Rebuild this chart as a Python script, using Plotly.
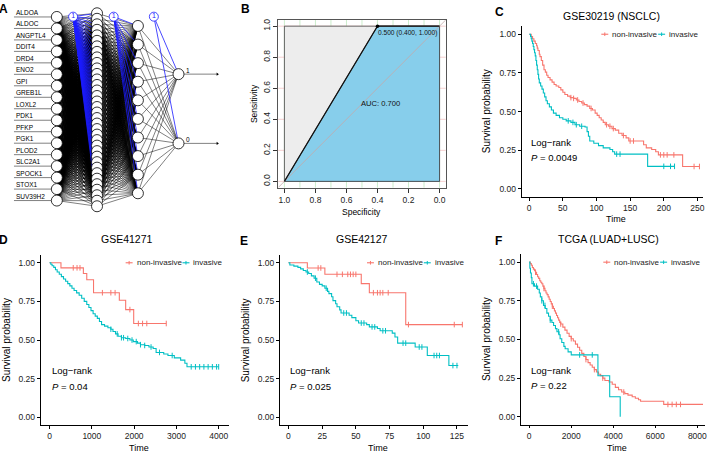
import numpy as np
import plotly.graph_objects as go

W, H = 709, 455
FONT = "Liberation Sans, Arial, Helvetica, sans-serif"
RED = "#F8766D"
TEAL = "#00BFC4"

# ---------------- data ----------------
# Panel A: neural network
genes = ["ALDOA", "ALDOC", "ANGPTL4", "DDIT4", "DRD4", "ENO2", "GPI", "GREB1L", "LOXL2",
         "PDK1", "PFKP", "PGK1", "PLOD2", "SLC2A1", "SPOCK1", "STOX1", "SUV39H2"]
hidden1_size = 36
hidden2_size = 10
output_labels = ["1", "0"]

# Panel B: ROC
roc_specificity = [1.0, 0.4, 0.0]
roc_sensitivity = [0.0, 1.0, 1.0]
auc_value = 0.700
best_threshold = 0.500
roc_ticks = [1.0, 0.8, 0.6, 0.4, 0.2, 0.0]

# Panel C: GSE30219 (NSCLC)
c_non_t = [0, 3, 5, 7, 9, 11, 12, 13, 15, 16, 18, 20, 22, 24, 26, 28, 31, 34, 37, 40, 44, 47, 50, 53,
           57, 61, 66, 70, 74, 78, 82, 86, 90, 94, 98, 101, 104, 107, 110, 113, 118, 123, 128, 133,
           138, 144, 148, 170, 174, 182, 188, 192, 228]
c_non_s = [1.0, 0.985, 0.97, 0.955, 0.94, 0.925, 0.91, 0.895, 0.87, 0.855, 0.83, 0.80, 0.77, 0.755,
           0.735, 0.72, 0.705, 0.69, 0.675, 0.665, 0.655, 0.64, 0.625, 0.61, 0.60, 0.59, 0.585, 0.575,
           0.565, 0.555, 0.545, 0.535, 0.52, 0.51, 0.49, 0.475, 0.46, 0.445, 0.43, 0.415, 0.405, 0.39,
           0.38, 0.36, 0.345, 0.33, 0.31, 0.285, 0.265, 0.255, 0.24, 0.22, 0.145]
c_non_end = 253
c_non_cens = [62, 66, 72, 80, 92, 115, 120, 125, 140, 150, 155, 195, 200, 205, 215, 245, 253]
c_inv_t = [0, 2, 3, 4, 5, 6, 7, 8, 9, 10, 11, 12, 13, 14, 15, 17, 19, 21, 23, 25, 27, 30, 33, 36, 40,
           45, 50, 55, 62, 68, 75, 83, 86, 88, 90, 96, 103, 110, 120, 124, 127, 176]
c_inv_s = [1.0, 0.985, 0.97, 0.955, 0.94, 0.92, 0.90, 0.88, 0.86, 0.83, 0.80, 0.77, 0.74, 0.71, 0.685,
           0.665, 0.645, 0.62, 0.595, 0.57, 0.55, 0.53, 0.51, 0.49, 0.475, 0.46, 0.45, 0.44, 0.43,
           0.415, 0.405, 0.40, 0.37, 0.34, 0.31, 0.295, 0.28, 0.265, 0.255, 0.24, 0.225, 0.146]
c_inv_end = 216
c_inv_cens = [58, 65, 70, 78, 130, 135, 200, 210, 216]

# Panel D: GSE41271
d_non_t = [0, 270, 800, 880, 1040, 1650, 1800, 1990]
d_non_s = [1.0, 0.967, 0.93, 0.89, 0.806, 0.757, 0.697, 0.607]
d_non_end = 2760
d_non_cens = [560, 650, 720, 1250, 1450, 1550, 1900, 2100, 2200, 2300, 2760]
d_inv_t = [0, 30, 60, 100, 140, 180, 230, 280, 330, 380, 430, 480, 530, 580, 640, 700, 760, 820, 880,
           930, 980, 1030, 1080, 1130, 1180, 1230, 1300, 1380, 1450, 1500, 1560, 1620, 1700, 1800,
           1900, 1980, 2080, 2150, 2250, 2350, 2450, 2520, 2700, 2800, 2950, 3100, 3200, 3250]
d_inv_s = [1.0, 0.99, 0.98, 0.97, 0.955, 0.94, 0.925, 0.91, 0.895, 0.88, 0.865, 0.85, 0.835, 0.82,
           0.805, 0.79, 0.77, 0.75, 0.73, 0.71, 0.69, 0.67, 0.655, 0.64, 0.62, 0.60, 0.59, 0.58, 0.57,
           0.555, 0.54, 0.525, 0.515, 0.51, 0.50, 0.49, 0.48, 0.47, 0.465, 0.455, 0.445, 0.42, 0.41,
           0.40, 0.385, 0.37, 0.35, 0.327]
d_inv_end = 4000
d_inv_cens = [1450, 1600, 1700, 1750, 1850, 1950, 2050, 2150, 2250, 2400, 2600, 2900, 3350, 3450,
              3550, 3650, 3750, 3850, 3950, 4000]

# Panel E: GSE42127
e_non_t = [0, 14, 27, 54, 60, 87]
e_non_s = [1.0, 0.966, 0.925, 0.865, 0.806, 0.60]
e_non_end = 129
e_non_cens = [22, 24, 36, 40, 44, 46, 48, 50, 63, 66, 68, 70, 74, 89, 123, 129]
e_inv_t = [0, 1, 4, 7, 9, 11, 13, 15, 17, 19, 21, 23, 25, 27, 29, 30, 32, 33, 35, 36, 38, 39, 45, 47,
           50, 52, 58, 60, 66, 68, 77, 79, 81, 94, 103, 119]
e_inv_s = [1.0, 0.985, 0.978, 0.97, 0.96, 0.95, 0.94, 0.93, 0.915, 0.90, 0.875, 0.86, 0.85, 0.835,
           0.815, 0.80, 0.78, 0.755, 0.735, 0.715, 0.695, 0.675, 0.66, 0.645, 0.625, 0.61, 0.60, 0.585,
           0.575, 0.56, 0.545, 0.52, 0.48, 0.455, 0.40, 0.335]
e_inv_end = 126
e_inv_cens = [14, 20, 28, 41, 43, 54, 56, 62, 64, 70, 72, 85, 87, 97, 99, 108, 110, 112, 122, 125]

# Panel F: TCGA (LUAD+LUSC)
f_non_t = [0, 50, 100, 150, 200, 250, 300, 350, 400, 450, 500, 550, 600, 650, 700, 750, 800, 850, 900,
           950, 1000, 1050, 1100, 1150, 1200, 1250, 1300, 1350, 1400, 1450, 1500, 1600, 1700, 1800,
           1900, 2000, 2100, 2200, 2300, 2400, 2500, 2600, 2700, 2800, 2900, 3000, 3100, 3200, 3300,
           3400, 3500, 3600, 3800, 3950, 4100, 4250, 4400, 4550, 4700, 4900, 5050, 5200, 5300, 6400]
f_non_s = [1.0, 0.99, 0.98, 0.965, 0.955, 0.945, 0.935, 0.92, 0.905, 0.895, 0.88, 0.87, 0.86, 0.845,
           0.83, 0.815, 0.80, 0.79, 0.775, 0.76, 0.745, 0.73, 0.715, 0.70, 0.685, 0.67, 0.655, 0.64,
           0.625, 0.61, 0.60, 0.58, 0.56, 0.54, 0.52, 0.505, 0.49, 0.47, 0.45, 0.43, 0.41, 0.39, 0.37,
           0.35, 0.335, 0.32, 0.305, 0.29, 0.275, 0.265, 0.25, 0.235, 0.225, 0.21, 0.19, 0.175, 0.16,
           0.15, 0.14, 0.13, 0.12, 0.11, 0.10, 0.08]
f_non_end = 8270
f_non_cens = [300, 700, 1100, 1500, 2000, 2700, 3100, 3500, 4500, 6600, 6800, 7000, 7200]
f_inv_t = [0, 30, 60, 100, 130, 250, 400, 480, 530, 600, 680, 760, 840, 920, 1000, 1080, 1160, 1250,
           1320, 1420, 1470, 1550, 1650, 1710, 1850, 2000, 3270, 3830, 4330]
f_inv_s = [1.0, 0.96, 0.93, 0.90, 0.86, 0.845, 0.825, 0.80, 0.775, 0.75, 0.72, 0.70, 0.67, 0.65,
           0.625, 0.61, 0.59, 0.57, 0.55, 0.53, 0.505, 0.48, 0.455, 0.44, 0.42, 0.40, 0.265, 0.13, 0.0]
f_inv_end = 4330
f_inv_cens = [200, 350, 600, 750, 1000, 1400, 2400, 3000]

km_panels = [
    dict(title="GSE30219 (NSCLC)", pval="0.0049", xt=[0, 50, 100, 150, 200, 250],
         non=(c_non_t, c_non_s, c_non_end, c_non_cens), inv=(c_inv_t, c_inv_s, c_inv_end, c_inv_cens)),
    dict(title="GSE41271", pval="0.04", xt=[0, 1000, 2000, 3000, 4000],
         non=(d_non_t, d_non_s, d_non_end, d_non_cens), inv=(d_inv_t, d_inv_s, d_inv_end, d_inv_cens)),
    dict(title="GSE42127", pval="0.025", xt=[0, 25, 50, 75, 100, 125],
         non=(e_non_t, e_non_s, e_non_end, e_non_cens), inv=(e_inv_t, e_inv_s, e_inv_end, e_inv_cens)),
    dict(title="TCGA (LUAD+LUSC)", pval="0.22", xt=[0, 2000, 4000, 6000, 8000],
         non=(f_non_t, f_non_s, f_non_end, f_non_cens), inv=(f_inv_t, f_inv_s, f_inv_end, f_inv_cens)),
]
y_ticks = [0.0, 0.25, 0.5, 0.75, 1.0]

# ---------------- layout geometry (pixels) ----------------
def pxx(x):
    return x / W


def pxy(y):
    return 1 - y / H


fig = go.Figure()
annotations = []
shapes = []


def ann(text, x, y, size, color="black", xanchor="center", yanchor="middle", **kw):
    d = dict(text=text, x=pxx(x), y=pxy(y), xref="paper", yref="paper", showarrow=False,
             xanchor=xanchor, yanchor=yanchor, font=dict(family=FONT, size=size, color=color))
    d.update(kw)
    annotations.append(d)


# ---------------- Panel A ----------------
in_x, h1_x, h2_x, out_x = 57, 97.3, 138.3, 179
in_y = np.linspace(16, 200, len(genes))
h1_y = np.linspace(12.3, 205.7, hidden1_size)
h2_y = np.linspace(25, 192.7, hidden2_size)
out_y = np.linspace(73.3, 142.7, len(output_labels))
bias = [(73.3, 15.7, h1_x, h1_y), (114, 15.7, h2_x, h2_y), (154.3, 15.7, out_x, out_y)]

lx, ly = [], []
for (xa, ya), (xb, yb) in [((in_x, in_y), (h1_x, h1_y)), ((h1_x, h1_y), (h2_x, h2_y)),
                           ((h2_x, h2_y), (out_x, out_y))]:
    for a in ya:
        for b in yb:
            lx += [xa, xb, None]
            ly += [a, b, None]
for a in in_y:
    lx += [14, in_x - 5.5, None]
    ly += [a, a, None]
for a in out_y:
    lx += [out_x + 5.5, 218, None]
    ly += [a, a, None]
fig.add_trace(go.Scatter(x=lx, y=ly, mode="lines", line=dict(color="black", width=0.5),
                         xaxis="x", yaxis="y", hoverinfo="skip"))
bx, by = [], []
for (x0, y0, xl, yl) in bias:
    for b in yl:
        bx += [x0, xl, None]
        by += [y0, b, None]
fig.add_trace(go.Scatter(x=bx, y=by, mode="lines", line=dict(color="#1a1aff", width=0.8),
                         xaxis="x", yaxis="y", hoverinfo="skip"))
fig.add_trace(go.Scatter(x=[218, 218], y=list(out_y), mode="markers",
                         marker=dict(symbol="triangle-right", size=3, color="black"),
                         xaxis="x", yaxis="y", hoverinfo="skip"))
nx = [in_x] * len(in_y) + [h1_x] * len(h1_y) + [h2_x] * len(h2_y) + [out_x] * len(out_y)
ny = list(in_y) + list(h1_y) + list(h2_y) + list(out_y)
fig.add_trace(go.Scatter(x=nx, y=ny, mode="markers",
                         marker=dict(size=11, color="white", line=dict(color="black", width=0.8)),
                         xaxis="x", yaxis="y", hoverinfo="skip"))
fig.add_trace(go.Scatter(x=[b[0] for b in bias], y=[b[1] for b in bias], mode="markers+text",
                         text=["1"] * 3, textposition="middle center",
                         textfont=dict(family=FONT, size=7, color="#1a1aff"),
                         marker=dict(size=9, color="white", line=dict(color="#1a1aff", width=0.8)),
                         xaxis="x", yaxis="y", hoverinfo="skip"))
for g, yy in zip(genes, in_y):
    annotations.append(dict(text=g, x=14, y=yy, xref="x", yref="y", showarrow=False,
                            xanchor="left", yanchor="bottom", yshift=-1,
                            font=dict(family=FONT, size=6.5, color="black")))
for lab, yy in zip(output_labels, out_y):
    annotations.append(dict(text=lab, x=185, y=yy, xref="x", yref="y", showarrow=False,
                            xanchor="left", yanchor="bottom", yshift=-2,
                            font=dict(family=FONT, size=6.5, color="black")))

# ---------------- Panel B ----------------
fig.add_trace(go.Scatter(x=[1, 1, 0, 0, 1], y=[0, 1, 1, 0, 0], fill="toself", fillcolor="#EDEDED",
                         mode="lines", line=dict(color="#444", width=0.8), xaxis="x2", yaxis="y2",
                         hoverinfo="skip"))
fig.add_trace(go.Scatter(x=roc_specificity + [0, 1], y=roc_sensitivity + [0, 0], fill="toself",
                         fillcolor="#87CEEB", mode="lines", line=dict(color="#444", width=0.8),
                         xaxis="x2", yaxis="y2", hoverinfo="skip"))
fig.add_trace(go.Scatter(x=[1.04, -0.04], y=[-0.04, 1.04], mode="lines",
                         line=dict(color="#C4A9A9", width=0.8), xaxis="x2", yaxis="y2",
                         hoverinfo="skip"))
fig.add_trace(go.Scatter(x=roc_specificity, y=roc_sensitivity, mode="lines",
                         line=dict(color="#111", width=1.2), xaxis="x2", yaxis="y2", hoverinfo="skip"))
fig.add_trace(go.Scatter(x=[roc_specificity[1]], y=[roc_sensitivity[1]], mode="markers",
                         marker=dict(size=3.5, color="black"), xaxis="x2", yaxis="y2",
                         hoverinfo="skip"))
annotations.append(dict(text="%.3f (%.3f, %.3f)" % (best_threshold, roc_specificity[1], roc_sensitivity[1]),
                        x=roc_specificity[1], y=roc_sensitivity[1], xref="x2", yref="y2",
                        showarrow=False, xanchor="left", yanchor="top", xshift=-1, yshift=-1,
                        font=dict(family=FONT, size=6.6, color="#111")))
annotations.append(dict(text="AUC: %.3f" % auc_value, x=0.38, y=0.5, xref="x2", yref="y2",
                        showarrow=False, font=dict(family=FONT, size=7.6, color="#111")))
for v in np.arange(0, 1.01, 0.1):
    shapes.append(dict(type="line", xref="x2", yref="y2 domain", x0=v, x1=v, y0=0, y1=1,
                       line=dict(color="#bfe8bf", width=0.8), layer="below"))
for v in np.arange(0, 1.01, 0.2):
    shapes.append(dict(type="line", xref="x2 domain", yref="y2", x0=0, x1=1, y0=v, y1=v,
                       line=dict(color="#f2c4c4", width=0.8), layer="below"))

# ---------------- KM panels ----------------
km_geo = [
    dict(xd=(523, 705), xr=(-11.4, 258.3), yd=(25.5, 196.1), title=(613, 15), leg=603,
         xlab=218, ylab=488),
    dict(xd=(40.7, 230), xr=(-212, 4252), yd=(254.55, 425.05), title=(127, 239), leg=126,
         xlab=448, ylab=6),
    dict(xd=(280.7, 469.6), xr=(-6.36, 133.4), yd=(254.55, 425.05), title=(363, 239), leg=368,
         xlab=448, ylab=246),
    dict(xd=(522.3, 707), xr=(-398.6, 8365), yd=(253.95, 424.45), title=(610, 239), leg=605,
         xlab=448, ylab=488),
]


def step_at(times, surv, t):
    idx = np.searchsorted(np.asarray(times), np.asarray(t), side="right") - 1
    return np.asarray(surv)[idx]


layout_axes = {}
for i, (pan, geo) in enumerate(zip(km_panels, km_geo)):
    n = i + 3
    xa, ya = "x%d" % n, "y%d" % n
    for key, col in [("non", RED), ("inv", TEAL)]:
        t, s, end, cens = pan[key]
        fig.add_trace(go.Scatter(x=list(t) + [end], y=list(s) + [s[-1]], mode="lines",
                                 line=dict(color=col, width=1.1, shape="hv"),
                                 xaxis=xa, yaxis=ya, hoverinfo="skip"))
        fig.add_trace(go.Scatter(x=cens, y=step_at(t, s, cens), mode="markers",
                                 marker=dict(symbol="line-ns", size=4, color=col,
                                             line=dict(color=col, width=1)),
                                 xaxis=xa, yaxis=ya, hoverinfo="skip"))
    x0, x1 = geo["xd"]
    yt, yb = geo["yd"]
    layout_axes["xaxis%d" % n] = dict(
        domain=[pxx(x0), pxx(x1)], range=list(geo["xr"]), anchor=ya, tickvals=pan["xt"],
        showline=True, linecolor="black", linewidth=0.8, ticks="outside", ticklen=3,
        tickcolor="black", tickwidth=0.8, showgrid=False, zeroline=False,
        tickfont=dict(family=FONT, size=8.5, color="#222"))
    layout_axes["yaxis%d" % n] = dict(
        domain=[pxy(yb), pxy(yt)], range=[-0.05, 1.05], anchor=xa, tickvals=y_ticks,
        ticktext=["%.2f" % v for v in y_ticks],
        showline=True, linecolor="black", linewidth=0.8, ticks="outside", ticklen=3,
        tickcolor="black", tickwidth=0.8, showgrid=False, zeroline=False,
        tickfont=dict(family=FONT, size=8.5, color="#222"))
    annotations.append(dict(text="Log\u2212rank", x=0, y=0.30, xref=xa, yref=ya, showarrow=False,
                            xanchor="left", font=dict(family=FONT, size=9.5, color="black")))
    annotations.append(dict(text="<i>P</i> = " + pan["pval"], x=0, y=0.20, xref=xa, yref=ya,
                            showarrow=False, xanchor="left",
                            font=dict(family=FONT, size=9.5, color="black")))
    ann(pan["title"], geo["title"][0], geo["title"][1], 10.5)
    ann("Time", (x0 + x1) / 2 + 4, geo["xlab"], 9)
    ann("Survival probability", geo["ylab"], (yt + yb) / 2, 10, textangle=-90)
    s0 = geo["leg"]
    ly_ = yt + 7.8
    for off, col, lab in [(0, RED, "non-invasive"), (57, TEAL, "invasive")]:
        shapes.append(dict(type="line", xref="paper", yref="paper", x0=pxx(s0 + off),
                           x1=pxx(s0 + off + 7), y0=pxy(ly_), y1=pxy(ly_),
                           line=dict(color=col, width=1.1)))
        shapes.append(dict(type="line", xref="paper", yref="paper", x0=pxx(s0 + off + 3.5),
                           x1=pxx(s0 + off + 3.5), y0=pxy(ly_ - 1.8), y1=pxy(ly_ + 1.8),
                           line=dict(color=col, width=1)))
        ann(lab, s0 + off + 9, ly_, 8, color="#222", xanchor="left")

ann("Specificity", 363, 211, 8.5)
ann("Sensitivity", 254, 103, 8.5, textangle=-90)

for lab, x, y in [("A", 4, 8), ("B", 246, 8), ("C", 501, 11), ("D", 4, 240), ("E", 245, 241),
                  ("F", 500, 241)]:
    ann("<b>%s</b>" % lab, x, y, 12)

fig.update_layout(
    width=W, height=H, autosize=False, margin=dict(l=0, r=0, t=0, b=0),
    paper_bgcolor="white", plot_bgcolor="white", showlegend=False,
    xaxis=dict(domain=[0, pxx(230)], range=[0, 230], visible=False, anchor="y"),
    yaxis=dict(domain=[pxy(215), 1], range=[215, 0], visible=False, anchor="x"),
    xaxis2=dict(domain=[pxx(279), pxx(447)], range=[1.04, -0.04], anchor="y2",
                tickvals=roc_ticks, ticktext=["%.1f" % v for v in roc_ticks],
                showline=True, mirror=True, linecolor="#555", linewidth=1, ticks="outside",
                ticklen=4, tickcolor="#333", showgrid=False, zeroline=False,
                tickfont=dict(family=FONT, size=8.5, color="#222")),
    yaxis2=dict(domain=[pxy(187), pxy(19)], range=[-0.04, 1.04], anchor="x2",
                tickvals=roc_ticks, ticktext=["%.1f" % v for v in roc_ticks], tickangle=-90,
                showline=True, mirror=True, linecolor="#555", linewidth=1, ticks="outside",
                ticklen=4, tickcolor="#333", showgrid=False, zeroline=False,
                tickfont=dict(family=FONT, size=8.5, color="#222")),
    annotations=annotations, shapes=shapes,
    **layout_axes,
)

fig.write_html("out.html", config={"displayModeBar": False},
               post_script="document.body.style.margin='0px';document.body.style.overflow='hidden';")
